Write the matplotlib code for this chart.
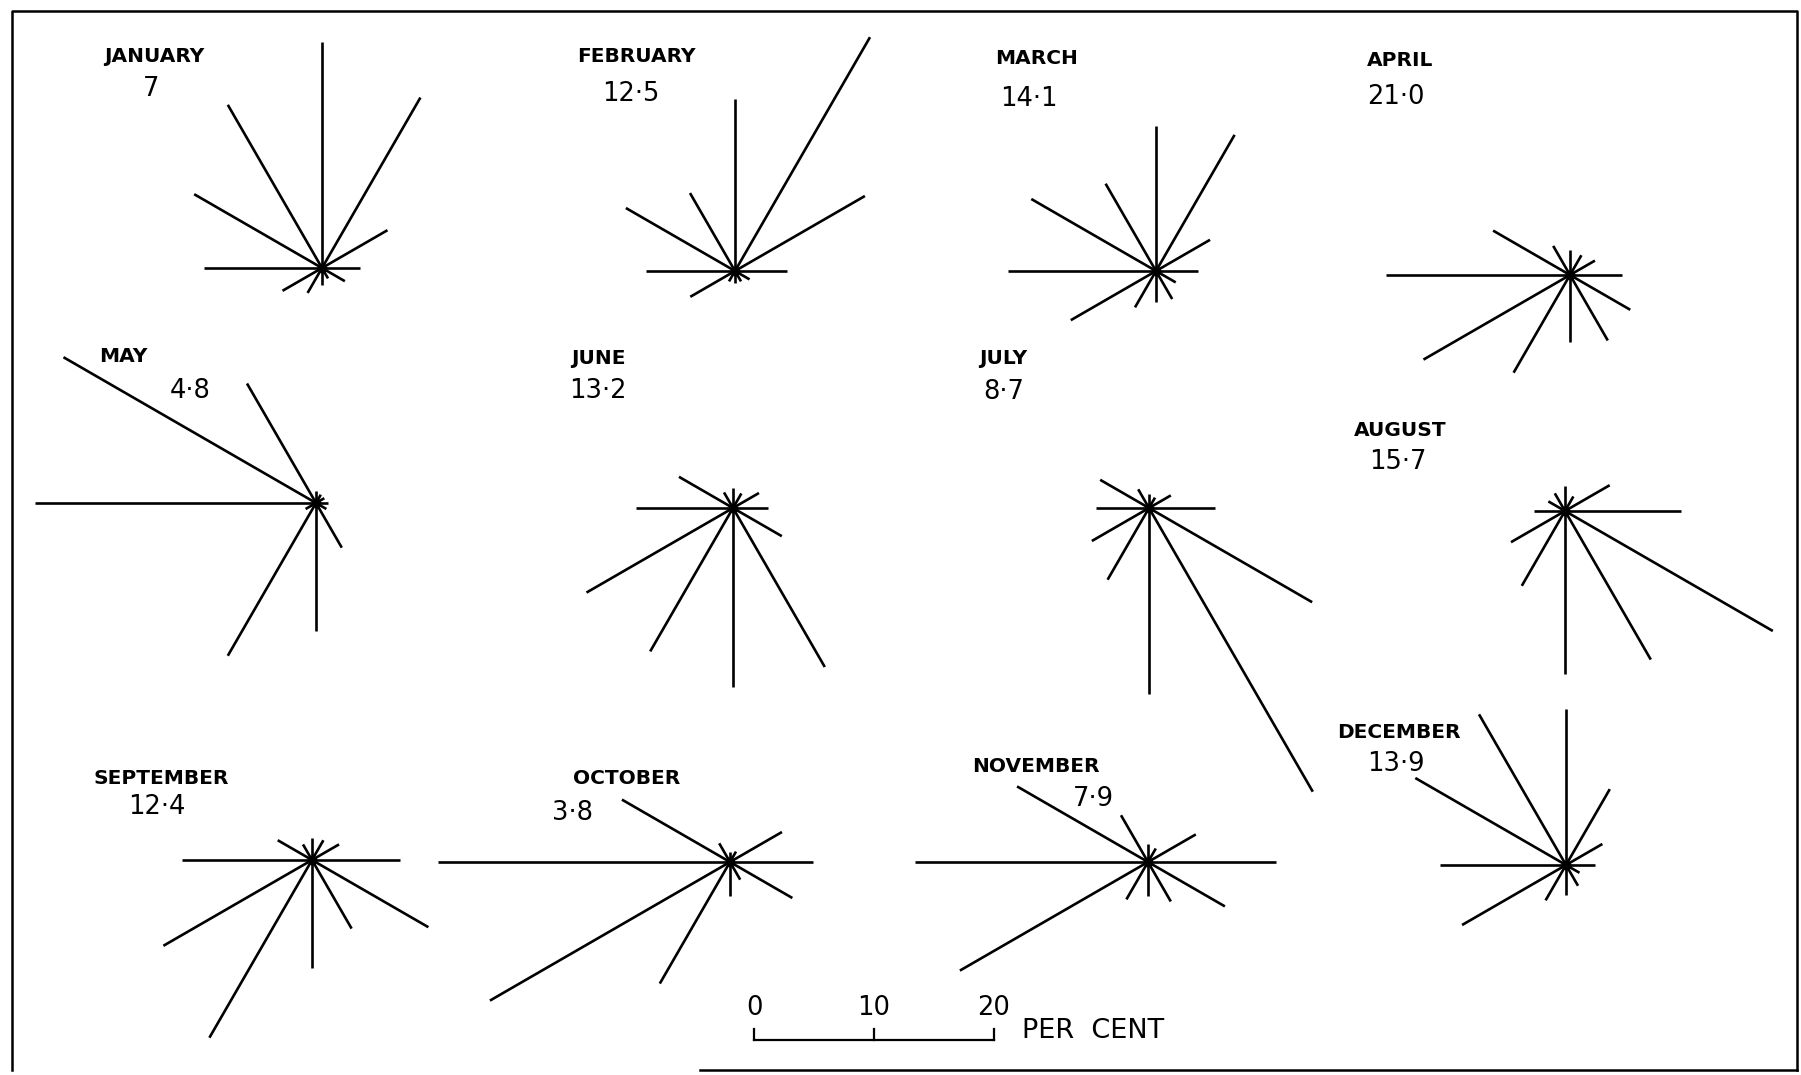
import numpy as np
import matplotlib
matplotlib.use("Agg")
import matplotlib.pyplot as plt

# wind frequency (per cent) from 12 directions, clockwise from north
bearings = [0, 30, 60, 90, 120, 150, 180, 210, 240, 270, 300, 330]

months = ["JANUARY", "FEBRUARY", "MARCH", "APRIL", "MAY", "JUNE",
          "JULY", "AUGUST", "SEPTEMBER", "OCTOBER", "NOVEMBER", "DECEMBER"]
calms = ["7", "12·5", "14·1", "21·0", "4·8", "13·2",
         "8·7", "15·7", "12·4", "3·8", "7·9", "13·9"]

jan = [18.8, 16.4, 6.3, 3.2, 2.2, 1.0, 1.4, 2.4, 3.8, 9.8, 12.3, 15.7]
feb = [14.3, 22.5, 12.5, 4.3, 1.4, 1.0, 1.0, 1.0, 4.3, 7.4, 10.5, 7.5]
mar = [12.1, 13.1, 5.2, 3.5, 1.9, 2.7, 2.6, 3.5, 8.2, 12.3, 12.0, 8.4]
apr = [2.1, 1.9, 2.4, 4.3, 5.8, 6.3, 5.6, 9.4, 14.1, 15.3, 7.4, 2.8]
may = [1.0, 0.8, 0.8, 1.0, 1.0, 4.3, 10.7, 14.7, 1.0, 23.4, 24.3, 11.5]
jun = [1.7, 1.4, 2.5, 2.9, 4.7, 15.3, 14.9, 13.8, 14.1, 8.1, 5.2, 1.5]
jul = [1.2, 1.0, 2.1, 5.5, 15.7, 27.3, 15.5, 6.9, 5.5, 4.4, 4.7, 1.8]
aug = [2.1, 1.4, 4.3, 9.7, 20.0, 14.3, 13.6, 7.2, 5.2, 2.6, 1.6, 1.7]
sep = [1.8, 1.9, 2.6, 7.3, 11.2, 6.6, 9.0, 17.1, 14.3, 10.8, 3.3, 1.5]
oct_ = [0.8, 1.0, 5.0, 6.9, 6.0, 1.7, 2.8, 11.7, 23.1, 24.3, 10.4, 1.8]
nov = [1.5, 1.3, 4.6, 10.7, 7.4, 3.8, 2.8, 3.6, 18.1, 19.4, 12.6, 4.5]
dec = [13.0, 7.3, 3.5, 2.4, 1.3, 2.0, 2.5, 3.4, 10.0, 10.5, 14.5, 14.5]

roses = [jan, feb, mar, apr, may, jun, jul, aug, sep, oct_, nov, dec]

# where each rose sits on the sheet, and where its labels go
centres = [(322, 268), (735, 271), (1156, 271), (1570, 275),
           (316, 503), (733, 508), (1149, 508), (1565, 511),
           (312, 860), (730, 862), (1148, 862), (1566, 865)]
name_pos = [(154, 56), (636, 57), (1037, 59), (1400, 60),
            (123, 357), (598, 358), (1003, 359), (1400, 431),
            (161, 779), (627, 779), (1036, 767), (1399, 732)]
calm_pos = [(151, 89), (631, 94), (1029, 99), (1396, 97),
            (190, 391), (598, 391), (1004, 392), (1398, 462),
            (157, 807), (572, 813), (1093, 799), (1396, 764)]

unit = 12.0  # sheet units per 1 per cent

fig = plt.figure(figsize=(18.01, 10.75), dpi=100)
ax = fig.add_axes([0, 0, 1, 1])
ax.set_xlim(0, 1801)
ax.set_ylim(1075, 0)
ax.axis("off")

# frame
ax.plot([12, 12, 1797, 1797], [1070, 11, 11, 1070], color="black", lw=1.8)
ax.plot([700, 1797], [1070, 1070], color="black", lw=1.8)

theta = np.radians(bearings)
for vals, (cx, cy) in zip(roses, centres):
    r = np.array(vals) * unit
    xs = cx + r * np.sin(theta)
    ys = cy - r * np.cos(theta)
    for x, y in zip(xs, ys):
        ax.plot([cx, x], [cy, y], color="black", lw=1.9, solid_capstyle="butt")
    ax.plot(cx, cy, "o", color="black", ms=6)

for name, calm, (nx, ny), (vx, vy) in zip(months, calms, name_pos, calm_pos):
    ax.text(nx, ny, name, ha="center", va="center", fontsize=14.5,
            fontweight="bold", color="black")
    ax.text(vx, vy, calm, ha="center", va="center", fontsize=18.5,
            color="black")

# scale bar 0-20 per cent
x0, ybar = 754, 1040
ticks = [0, 10, 20]
ax.plot([x0, x0 + 20 * unit], [ybar, ybar], color="black", lw=1.6)
for t in ticks:
    tx = x0 + t * unit
    ax.plot([tx, tx], [ybar, ybar - 11], color="black", lw=1.6)
    ax.text(tx, 1008, str(t), ha="center", va="center", fontsize=18.5)
ax.text(x0 + 20 * unit + 28, 1031, "PER  CENT", ha="left", va="center",
        fontsize=19.5)

fig.savefig("out.png", dpi=100, facecolor="white")
